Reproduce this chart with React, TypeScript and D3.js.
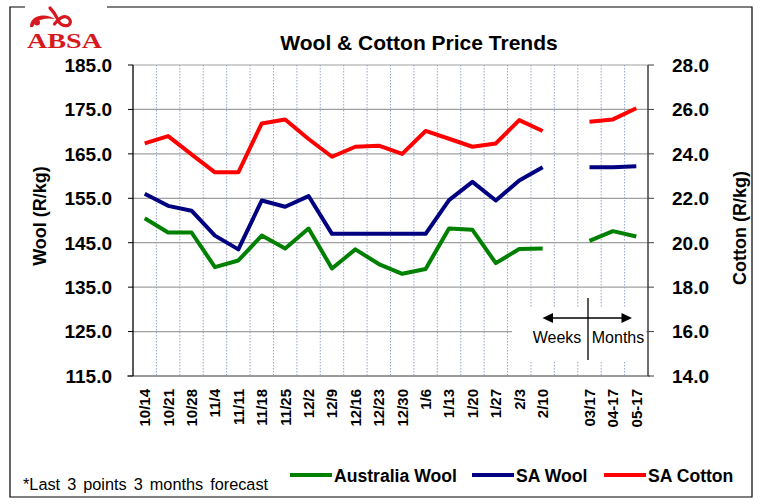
import React, { useEffect, useRef } from "react"
import * as d3 from "d3"

// categories (weekly then monthly forecast, one blank slot between)
const categories = ["10/14","10/21","10/28","11/4","11/11","11/18","11/25","12/2","12/9","12/16","12/23","12/30","1/6","1/13","1/20","1/27","2/3","2/10","","03/17","04-17","05-17"]

// R/kg, left axis
const australiaWool = [150.5,147.3,147.3,139.5,141.0,146.6,143.7,148.2,139.2,143.5,140.2,138.0,139.1,148.2,147.9,140.4,143.6,143.7,null,145.4,147.6,146.4]
const saWool = [156.0,153.3,152.2,146.6,143.5,154.5,153.1,155.5,147.0,147.0,147.0,147.0,147.0,154.6,158.7,154.5,159.0,162.0,null,162.0,162.0,162.2]
// R/kg, right axis
const saCotton = [24.47,24.80,23.98,23.17,23.17,25.37,25.55,24.67,23.87,24.32,24.37,24.0,25.03,24.68,24.32,24.47,25.52,25.03,null,25.45,25.55,26.05]

const leftTicks = [115,125,135,145,155,165,175,185]
const rightTicks = [14,16,18,20,22,24,26,28]

const FONT = "'Liberation Sans', Arial, sans-serif"

export default function App() {
  const ref = useRef<SVGSVGElement>(null)

  useEffect(() => {
    const svg = d3.select(ref.current)
    svg.selectAll("*").remove()

    const left = 133, right = 648, top = 65, bottom = 376

    const x = d3.scaleBand<number>().domain(d3.range(categories.length)).range([left, right])
    const cx = (i: number) => (x(i) as number) + x.bandwidth() / 2
    const yL = d3.scaleLinear().domain([115, 185]).range([bottom, top])
    const yR = d3.scaleLinear().domain([14, 28]).range([bottom, top])

    svg.append("rect").attr("width", 760).attr("height", 504).attr("fill", "white")

    // outer frame with gap for logo
    svg.append("path")
      .attr("d", "M25,7 H10 V497 H752 V7 H107")
      .attr("fill", "none").attr("stroke", "black").attr("stroke-width", 1.2)

    // logo
    const logo = svg.append("g").attr("fill", "#d7191f")
    logo.append("circle").attr("cx", 37).attr("cy", 22.5).attr("r", 3)
    logo.append("path").attr("d", "M30,27 Q30,17 42,15.5 Q49,15 55,19 Q47,18 42,19.5 Q35,21 33,27 Z")
    logo.append("path")
      .attr("d", "M50,8 Q55,13 57.5,19 Q60.5,27 68,25.5 Q72.5,22.5 68.5,18 Q64,14.5 58,20 L54.5,24")
      .attr("fill", "none").attr("stroke", "#d7191f").attr("stroke-width", 3.2).attr("stroke-linecap", "round")
    logo.append("text").text("ABSA")
      .attr("x", 27).attr("y", 47.5)
      .attr("font-family", "'Liberation Serif', 'Times New Roman', serif")
      .attr("font-weight", "bold").attr("font-size", 22)
      .attr("textLength", 75).attr("lengthAdjust", "spacingAndGlyphs")

    // title
    svg.append("text").text("Wool & Cotton Price Trends")
      .attr("x", 419).attr("y", 50).attr("text-anchor", "middle")
      .attr("font-family", FONT).attr("font-weight", "bold").attr("font-size", 21)

    // vertical dotted grid
    svg.append("g").selectAll("line").data(d3.range(1, categories.length)).enter().append("line")
      .attr("x1", d => x(d) as number).attr("x2", d => x(d) as number)
      .attr("y1", top).attr("y2", bottom)
      .attr("stroke", "#95a5cf").attr("stroke-width", 1).attr("stroke-dasharray", "1.5,1.5")

    // horizontal grid
    svg.append("g").selectAll("line").data(leftTicks).enter().append("line")
      .attr("x1", left).attr("x2", right)
      .attr("y1", d => yL(d)).attr("y2", d => yL(d))
      .attr("stroke", "#a0a0a0").attr("stroke-width", 1.2)

    // white note box
    svg.append("rect").attr("x", 512).attr("y", 308).attr("width", 134).attr("height", 53).attr("fill", "white")

    // bottom axis line
    svg.append("line").attr("x1", left - 6).attr("x2", right + 2).attr("y1", bottom).attr("y2", bottom)
      .attr("stroke", "#8a8a8a").attr("stroke-width", 1.5)

    // left axis
    svg.append("line").attr("x1", left).attr("x2", left).attr("y1", top).attr("y2", bottom)
      .attr("stroke", "black").attr("stroke-width", 1.3)
    svg.append("g").selectAll("line").data(leftTicks).enter().append("line")
      .attr("x1", left - 5).attr("x2", left).attr("y1", d => yL(d)).attr("y2", d => yL(d))
      .attr("stroke", "black")
    svg.append("g").selectAll("text").data(leftTicks).enter().append("text")
      .text(d => d.toFixed(1))
      .attr("x", 112).attr("y", d => yL(d)).attr("dy", "0.36em").attr("text-anchor", "end")
      .attr("font-family", FONT).attr("font-weight", "bold").attr("font-size", 19)

    // right axis
    svg.append("line").attr("x1", right).attr("x2", right).attr("y1", top).attr("y2", bottom)
      .attr("stroke", "#404040").attr("stroke-width", 1.5)
    svg.append("g").selectAll("line").data(rightTicks).enter().append("line")
      .attr("x1", right).attr("x2", right + 6).attr("y1", d => yR(d)).attr("y2", d => yR(d))
      .attr("stroke", "#404040")
    svg.append("g").selectAll("text").data(rightTicks).enter().append("text")
      .text(d => d.toFixed(1))
      .attr("x", 672).attr("y", d => yR(d)).attr("dy", "0.36em")
      .attr("font-family", FONT).attr("font-weight", "bold").attr("font-size", 19)

    // axis titles
    svg.append("text").text("Wool (R/kg)")
      .attr("transform", "translate(46,216) rotate(-90)").attr("text-anchor", "middle")
      .attr("font-family", FONT).attr("font-weight", "bold").attr("font-size", 18)
    svg.append("text").text("Cotton (R/kg)")
      .attr("transform", "translate(746,228) rotate(-90)").attr("text-anchor", "middle")
      .attr("font-family", FONT).attr("font-weight", "bold").attr("font-size", 18)

    // x labels
    svg.append("g").selectAll("text").data(categories.map((c, i) => ({ c, i })).filter(d => d.c !== ""))
      .enter().append("text")
      .text(d => d.c)
      .attr("transform", d => `translate(${cx(d.i)},389) rotate(-90)`)
      .attr("dy", "0.36em").attr("text-anchor", "end")
      .attr("font-family", FONT).attr("font-weight", "bold").attr("font-size", 15)

    // series
    const lineL = d3.line<number | null>()
      .defined(d => d !== null)
      .x((d, i) => cx(i)).y(d => yL(d as number))
    const lineR = d3.line<number | null>()
      .defined(d => d !== null)
      .x((d, i) => cx(i)).y(d => yR(d as number))

    const series = [
      { data: australiaWool, line: lineL, color: "#008000" },
      { data: saWool, line: lineL, color: "#000080" },
      { data: saCotton, line: lineR, color: "#ff0000" },
    ]
    series.forEach(s => {
      svg.append("path").attr("d", s.line(s.data))
        .attr("fill", "none").attr("stroke", s.color).attr("stroke-width", 4)
        .attr("stroke-linejoin", "round")
    })

    // weeks / months note
    const note = svg.append("g")
    note.append("line").attr("x1", 588).attr("x2", 588).attr("y1", 298).attr("y2", 360)
      .attr("stroke", "black").attr("stroke-width", 1.3)
    note.append("line").attr("x1", 550).attr("x2", 624).attr("y1", 318).attr("y2", 318)
      .attr("stroke", "black").attr("stroke-width", 1.5)
    note.append("path").attr("d", "M542.5,318 L553,313 L553,323 Z").attr("fill", "black")
    note.append("path").attr("d", "M632,318 L621.5,313 L621.5,323 Z").attr("fill", "black")
    note.append("text").text("Weeks").attr("x", 557).attr("y", 343).attr("text-anchor", "middle")
      .attr("font-family", FONT).attr("font-size", 16)
    note.append("text").text("Months").attr("x", 618).attr("y", 343).attr("text-anchor", "middle")
      .attr("font-family", FONT).attr("font-size", 16)

    // footnote
    svg.append("text").text("*Last 3 points 3 months forecast")
      .attr("x", 23).attr("y", 490)
      .attr("font-family", FONT).attr("font-size", 16.3).attr("word-spacing", 2.5)

    // legend
    const legend = [
      { name: "Australia Wool", color: "#008000", x: 290 },
      { name: "SA Wool", color: "#000080", x: 472 },
      { name: "SA Cotton", color: "#ff0000", x: 604 },
    ]
    const lg = svg.append("g").selectAll("g").data(legend).enter().append("g")
      .attr("transform", d => `translate(${d.x},475)`)
    lg.append("line").attr("x1", 0).attr("x2", 42).attr("y1", 0).attr("y2", 0)
      .attr("stroke", d => d.color).attr("stroke-width", 4)
    lg.append("text").text(d => d.name).attr("x", 44).attr("y", 6.5)
      .attr("font-family", FONT).attr("font-weight", "bold").attr("font-size", 17.6)
  }, [])

  return <svg ref={ref} width={760} height={504} style={{ position: "absolute", left: 0, top: 0 }} />
}
